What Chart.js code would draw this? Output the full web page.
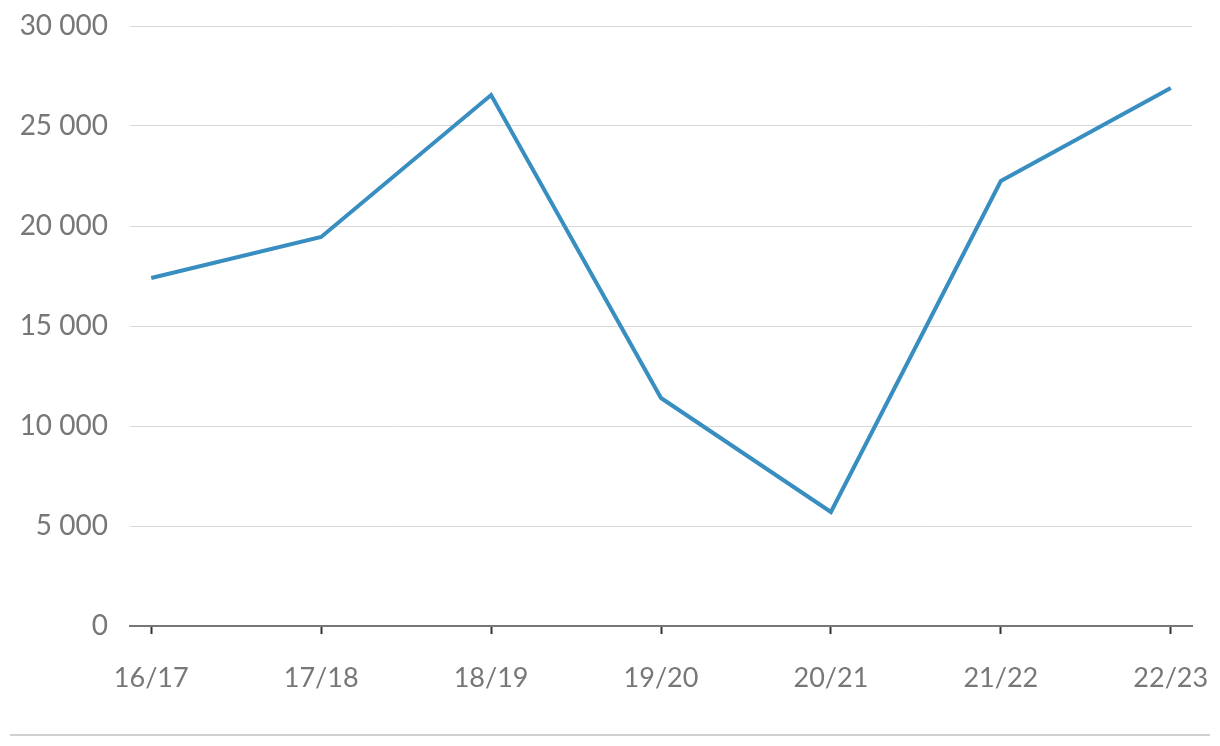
<!DOCTYPE html>
<html>
<head>
<meta charset="utf-8">
<script src="https://cdn.jsdelivr.net/npm/chart.js@4/dist/chart.umd.min.js"></script>
<style>
  html, body { margin: 0; padding: 0; background: #fff; }
  #wrap { width: 1220px; height: 746px; }
</style>
</head>
<body>
<div id="wrap"><canvas id="myChart" width="1220" height="746"></canvas></div>
<script>
// data
const seasons = ['16/17', '17/18', '18/19', '19/20', '20/21', '21/22', '22/23'];
const values = [17400, 19450, 26550, 11400, 5700, 22250, 26900];
const yTicks = [0, 5000, 10000, 15000, 20000, 25000, 30000];

// thousands with a space
function fmt(v) {
  return String(v).replace(/\B(?=(\d{3})+(?!\d))/g, ' ');
}

// grey line at the very bottom
const bottomLine = {
  id: 'bottomLine',
  afterDraw(chart) {
    const c = chart.ctx;
    c.save();
    c.strokeStyle = '#d0d0d0';
    c.lineWidth = 2;
    c.beginPath();
    c.moveTo(10, 735);
    c.lineTo(1210, 735);
    c.stroke();
    c.restore();
  }
};

const ctx = document.getElementById('myChart').getContext('2d');

new Chart(ctx, {
  type: 'line',
  data: {
    datasets: [{
      data: values.map((v, i) => ({ x: i, y: v })),
      borderColor: '#388ec0',
      borderWidth: 4,
      pointRadius: 0,
      tension: 0,
      fill: false
    }]
  },
  options: {
    responsive: false,
    animation: false,
    layout: {
      padding: { left: 0, right: 28, top: 26, bottom: 0 }
    },
    plugins: {
      legend: { display: false },
      tooltip: { enabled: false }
    },
    scales: {
      x: {
        type: 'linear',
        min: -0.125,
        max: 6.125,
        afterBuildTicks: (scale) => {
          scale.ticks = seasons.map((s, i) => ({ value: i }));
        },
        afterFit: (scale) => {
          scale.height = 120;
          scale.paddingLeft = 0;
          scale.paddingRight = 0;
        },
        ticks: {
          color: '#777',
          font: { family: 'Lato', size: 27 },
          padding: 28,
          maxRotation: 0,
          autoSkip: false,
          callback: (v) => seasons[v]
        },
        grid: {
          drawOnChartArea: false,
          drawTicks: true,
          tickLength: 8,
          tickColor: '#333',
          tickWidth: 2
        },
        border: { display: true, color: '#777', width: 2 }
      },
      y: {
        min: 0,
        max: 30000,
        afterBuildTicks: (scale) => {
          scale.ticks = yTicks.map(v => ({ value: v }));
        },
        afterFit: (scale) => {
          scale.width = 130;
          scale.paddingTop = 0;
          scale.paddingBottom = 0;
        },
        ticks: {
          color: '#777',
          font: { family: 'Lato', size: 28 },
          padding: 22,
          callback: (v) => fmt(v)
        },
        grid: {
          color: '#d9d9d9',
          lineWidth: 1,
          drawTicks: false
        },
        border: { display: false }
      }
    }
  },
  plugins: [bottomLine]
});
</script>
</body>
</html>
